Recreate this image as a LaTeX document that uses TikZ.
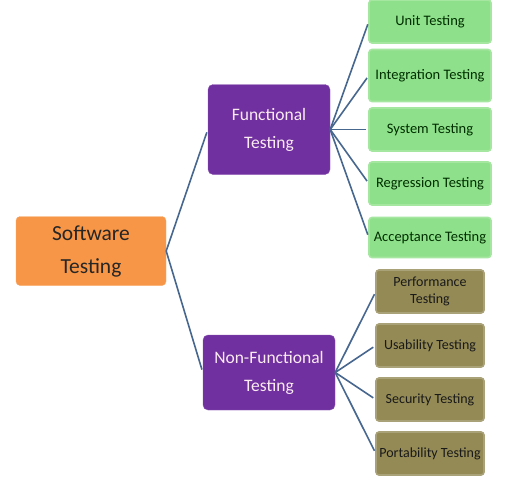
\documentclass[tikz,border=0pt]{standalone}
\usepackage{fontspec}
\setmainfont{Carlito}
\usetikzlibrary{trees}
\definecolor{rootorange}{HTML}{F79646}
\definecolor{branchpurple}{HTML}{7030A0}
\definecolor{leafgreen}{HTML}{8EE08A}
\definecolor{leafolive}{HTML}{948A56}
\definecolor{linkblue}{HTML}{47678F}

\begin{document}
\begin{tikzpicture}[
x=1pt, y=1pt,
root/.style={
	rectangle, rounded corners=4pt, inner sep=0pt,
	draw=rootorange!80!white, fill=rootorange,
	minimum width=150pt, minimum height=69pt,
	align=center, text=black!85,
	font=\fontsize{21.5}{33}\selectfont,
},
branch/.style={
	rectangle, rounded corners=5pt, inner sep=0pt,
	draw=branchpurple!80!white, fill=branchpurple,
	minimum width=122pt, minimum height=90pt,
	align=center, text=white!92!purple,
	font=\fontsize{17.5}{28}\selectfont,
},
functional/.style={
	rectangle, rounded corners=3pt, inner sep=0pt,
	draw=leafgreen!80!white, fill=leafgreen,
	minimum width=122pt, minimum height=43pt,
	align=center, text=green!18!black,
	font=\fontsize{14.5}{17}\selectfont,
},
nonfunctional/.style={
	rectangle, rounded corners=3pt, inner sep=0pt,
	draw=leafolive!80!white, fill=leafolive,
	minimum width=108pt, minimum height=43pt,
	align=center, text=black!90,
	font=\fontsize{14}{17}\selectfont,
},
grow'=right,
level 1/.style={level distance=178pt, sibling distance=243pt},
level 2/.style={level distance=161pt, sibling distance=54pt},
edge from parent/.style={draw=linkblue, line width=1.6pt, shorten >=3pt},
edge from parent path={(\tikzparentnode.east) -- (\tikzchildnode.west)},
]
\useasboundingbox (0,0) rectangle (506,-480);
\node[root] (software) at (91,-251) {Software\\Testing}
    child {node[branch] (functionaltesting) {Functional\\Testing}
        child {node[functional] (unit) {Unit Testing}}
        child {node[functional, minimum height=52pt] (integration) {Integration Testing}}
        child {node[functional] (system) {System Testing}}
        child {node[functional] (regression) {Regression Testing}}
        child {node[functional, minimum height=40pt] (acceptance) {Acceptance Testing}}
    }
    child {node[branch, minimum width=132pt, minimum height=75pt] (nonfunctionaltesting) {Non-Functional\\Testing}
        child {node[nonfunctional] (performance) {Performance\\Testing}}
        child {node[nonfunctional] (usability) {Usability Testing}}
        child {node[nonfunctional] (security) {Security Testing}}
        child {node[nonfunctional] (portability) {Portability Testing}}
    }
;
\end{tikzpicture}
\end{document}
